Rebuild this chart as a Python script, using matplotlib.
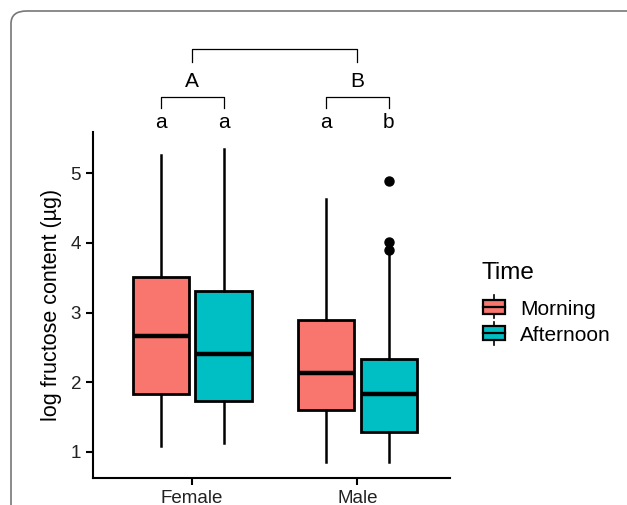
import matplotlib
matplotlib.use("Agg")
import matplotlib.pyplot as plt
from matplotlib.patches import FancyBboxPatch, Rectangle
from matplotlib.lines import Line2D
from matplotlib.legend_handler import HandlerBase

sexes = ["Female", "Male"]
times = ["Morning", "Afternoon"]
colors = ["#F8766D", "#00BFC4"]

# per sex, per time: whislo, q1, med, q3, whishi
whislo = [[1.09, 1.13], [0.86, 0.85]]
q1 = [[1.83, 1.73], [1.60, 1.28]]
med = [[2.67, 2.40], [2.13, 1.83]]
q3 = [[3.51, 3.31], [2.89, 2.33]]
whishi = [[5.26, 5.35], [4.63, 3.86]]
fliers = [[[], []], [[], [4.88, 4.01, 3.90]]]

group_letters = ["A", "B"]
pair_letters = [["a", "a"], ["a", "b"]]

plt.rcParams['font.family'] = ['Liberation Sans', 'DejaVu Sans']

fig = plt.figure(figsize=(6.27, 5.05), dpi=100)
ax = fig.add_axes([93 / 627, (505 - 478) / 505, (450 - 93) / 627, (478 - 132) / 505])

offset = 0.19
width = 0.34
for i in range(len(sexes)):
    for j in range(len(times)):
        pos = i + 1 + (-offset if j == 0 else offset)
        st = dict(whislo=whislo[i][j], q1=q1[i][j], med=med[i][j], q3=q3[i][j],
                  whishi=whishi[i][j], fliers=fliers[i][j])
        ax.bxp([st], positions=[pos], widths=width, patch_artist=True,
               showcaps=False,
               boxprops=dict(facecolor=colors[j], edgecolor="black", linewidth=2),
               medianprops=dict(color="black", linewidth=3.2),
               whiskerprops=dict(color="black", linewidth=1.8),
               flierprops=dict(marker="o", markerfacecolor="black", markeredgecolor="black", markersize=6.5))

ax.set_xlim(0.4, 2.56)
ax.set_ylim(0.627, 5.59)
ax.set_xticks([1, 2])
ax.set_xticklabels(sexes)
ax.set_yticks([1, 2, 3, 4, 5])
ax.tick_params(labelsize=13.5, labelcolor="#222222", width=1.5, length=5)
for s in ["top", "right"]:
    ax.spines[s].set_visible(False)
for s in ["left", "bottom"]:
    ax.spines[s].set_linewidth(1.5)
ax.set_ylabel("log fructose content (µg)", fontsize=15.5, labelpad=6)

# significance brackets
kw = dict(color="black", lw=0.9, clip_on=False)
for i in range(len(sexes)):
    x0, x1 = i + 1 - offset, i + 1 + offset
    ax.plot([x0, x0, x1, x1], [5.93, 6.09, 6.09, 5.93], **kw)
    for j, x in enumerate([x0, x1]):
        ax.text(x, 5.73, pair_letters[i][j], ha="center", va="center", fontsize=15,
                clip_on=False)
    ax.text(i + 1, 6.31, group_letters[i], ha="center", va="center", fontsize=15,
            clip_on=False)
ax.plot([1, 1, 2, 2], [6.59, 6.78, 6.78, 6.59], **kw)


class BoxHandler(HandlerBase):
    def create_artists(self, legend, orig, xd, yd, w, h, fontsize, trans):
        fc = orig.get_facecolor()
        cx = xd + w / 2
        r = Rectangle((xd, yd + h * 0.05), w, h * 0.9,
                      facecolor=fc, edgecolor="black", lw=1.6, transform=trans)
        m = Line2D([xd, xd + w], [yd + h / 2, yd + h / 2],
                   color="black", lw=1.6, transform=trans)
        v1 = Line2D([cx, cx], [yd - h * 0.25, yd + h * 0.05], color="black", lw=1.2, transform=trans)
        v2 = Line2D([cx, cx], [yd + h * 0.95, yd + h * 1.25], color="black", lw=1.2, transform=trans)
        return [v1, v2, r, m]


handles = [Rectangle((0, 0), 1, 1, facecolor=c) for c in colors]
fig.legend(handles, times, loc="center left",
           bbox_to_anchor=(483 / 627, 1 - 322.5 / 505), frameon=False,
           fontsize=15, handler_map={Rectangle: BoxHandler()},
           handlelength=1.05, handleheight=0.75, handletextpad=0.72, labelspacing=0.35,
           borderpad=0, borderaxespad=0)
fig.text(482 / 627, 1 - 273 / 505, "Time", fontsize=17.5, ha="left", va="center")

frame = FancyBboxPatch((11 / 627, -0.05), 1.2, 1 - 11 / 505 + 0.05,
                       boxstyle="round,pad=0,rounding_size=0.025",
                       transform=fig.transFigure, facecolor="none",
                       edgecolor="#777777", lw=1.2, clip_on=False)
fig.patches.append(frame)

fig.savefig("out.png", dpi=100)
